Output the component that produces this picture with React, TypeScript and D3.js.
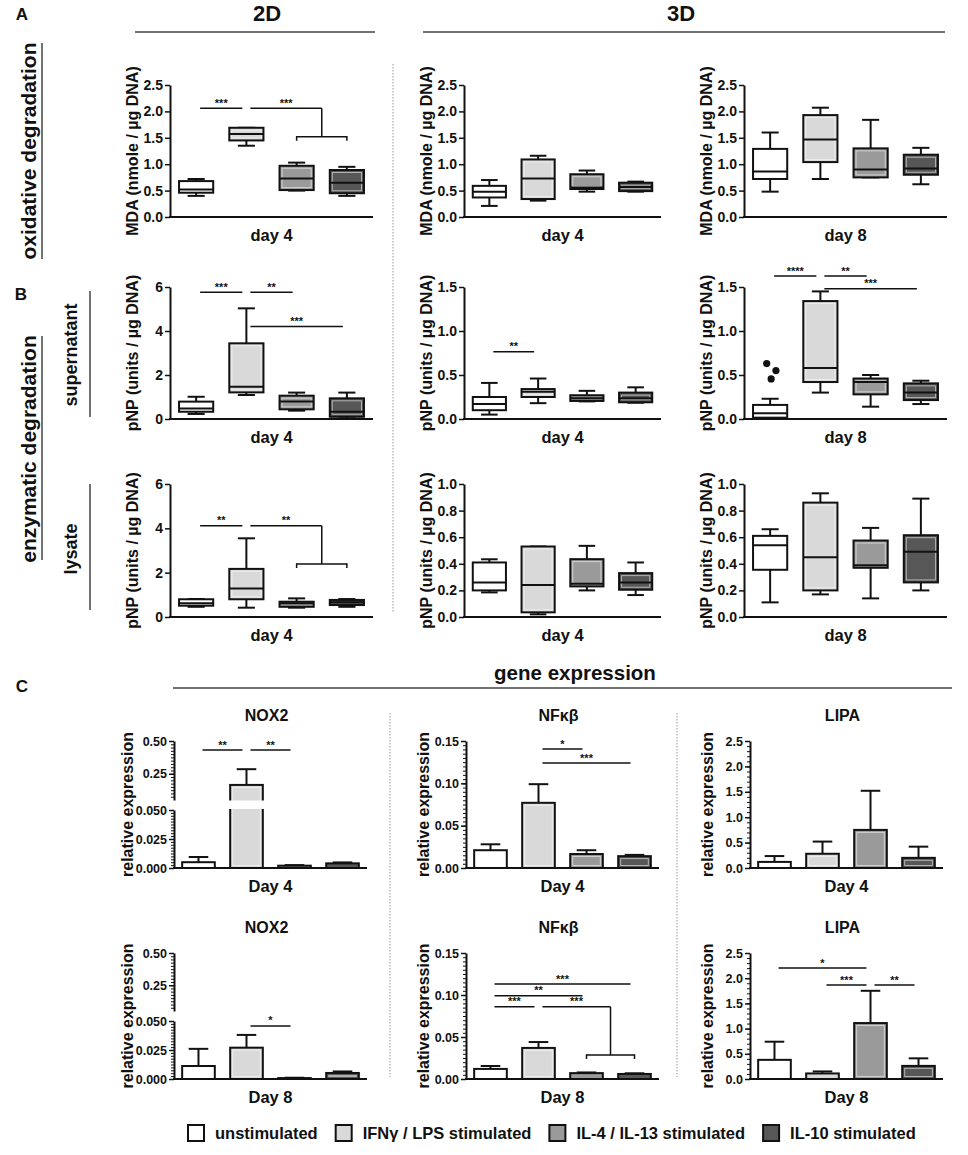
import { useEffect, useRef } from 'react';
import * as d3 from 'd3';

const FONT = "'Liberation Sans', Arial, Helvetica, sans-serif";
const INK = '#111';

const groups = ['unstimulated', 'IFNγ / LPS stimulated', 'IL-4 / IL-13 stimulated', 'IL-10 stimulated'];
const fills = ['#ffffff', '#d9d9d9', '#9a9a9a', '#575757'];

// box stats per group: [min, q1, median, q3, max]
const mda2dDay4 = [
  [0.40, 0.46, 0.52, 0.68, 0.72],
  [1.35, 1.45, 1.57, 1.69, 1.69],
  [0.50, 0.51, 0.73, 0.97, 1.03],
  [0.40, 0.45, 0.65, 0.89, 0.95],
];
const mda3dDay4 = [
  [0.21, 0.37, 0.48, 0.59, 0.70],
  [0.31, 0.34, 0.73, 1.09, 1.16],
  [0.48, 0.53, 0.56, 0.81, 0.88],
  [0.48, 0.49, 0.57, 0.65, 0.67],
];
const mda3dDay8 = [
  [0.48, 0.72, 0.86, 1.29, 1.60],
  [0.72, 1.04, 1.47, 1.93, 2.07],
  [0.75, 0.75, 0.90, 1.30, 1.84],
  [0.62, 0.80, 0.92, 1.18, 1.31],
];
const supn2dDay4 = [
  [0.23, 0.33, 0.48, 0.79, 1.01],
  [1.09, 1.21, 1.47, 3.44, 5.03],
  [0.38, 0.44, 0.79, 1.06, 1.20],
  [0.03, 0.10, 0.33, 0.94, 1.20],
];
const supn3dDay4 = [
  [0.05, 0.10, 0.17, 0.25, 0.41],
  [0.18, 0.25, 0.31, 0.34, 0.46],
  [0.20, 0.205, 0.235, 0.27, 0.32],
  [0.185, 0.19, 0.235, 0.30, 0.36],
];
const supn3dDay8 = [
  [0.0, 0.015, 0.065, 0.16, 0.23],
  [0.30, 0.42, 0.58, 1.34, 1.45],
  [0.14, 0.28, 0.42, 0.46, 0.50],
  [0.17, 0.215, 0.30, 0.405, 0.435],
];
const supn3dDay8Outliers = [
  { group: 0, value: 0.63, jitter: -0.1 },
  { group: 0, value: 0.55, jitter: 0.17 },
  { group: 0, value: 0.455, jitter: 0.03 },
];
const lys2dDay4 = [
  [0.46, 0.51, 0.62, 0.80, 0.81],
  [0.42, 0.80, 1.29, 2.17, 3.55],
  [0.42, 0.46, 0.62, 0.69, 0.84],
  [0.46, 0.54, 0.66, 0.77, 0.81],
];
const lys3dDay4 = [
  [0.185, 0.20, 0.26, 0.41, 0.434],
  [0.02, 0.035, 0.24, 0.53, 0.53],
  [0.20, 0.23, 0.25, 0.435, 0.535],
  [0.165, 0.205, 0.26, 0.33, 0.41],
];
const lys3dDay8 = [
  [0.11, 0.355, 0.54, 0.61, 0.66],
  [0.17, 0.20, 0.45, 0.86, 0.93],
  [0.14, 0.37, 0.39, 0.575, 0.67],
  [0.20, 0.26, 0.49, 0.615, 0.89],
];

// gene expression: mean and top of error bar
const nox2Day4 = [0.005, 0.165, 0.002, 0.004];
const nox2Day4Err = [0.0095, 0.285, 0.0025, 0.0048];
const nfkbDay4 = [0.021, 0.077, 0.0165, 0.014];
const nfkbDay4Err = [0.028, 0.099, 0.021, 0.0155];
const lipaDay4 = [0.12, 0.28, 0.75, 0.2];
const lipaDay4Err = [0.235, 0.52, 1.52, 0.42];
const nox2Day8 = [0.0112, 0.027, 0.0008, 0.0052];
const nox2Day8Err = [0.026, 0.038, 0.0011, 0.0065];
const nfkbDay8 = [0.012, 0.037, 0.007, 0.006];
const nfkbDay8Err = [0.0155, 0.044, 0.0078, 0.0068];
const lipaDay8 = [0.38, 0.11, 1.11, 0.26];
const lipaDay8Err = [0.74, 0.15, 1.75, 0.41];

// tick values
const mdaTicks = [0, 0.5, 1, 1.5, 2, 2.5];
const pnp2dTicks = [0, 2, 4, 6];
const pnpSupnTicks = [0, 0.5, 1, 1.5];
const pnpLysTicks = [0, 0.2, 0.4, 0.6, 0.8, 1.0];
const nox2LowTicks = [0, 0.025, 0.05];
const nox2HighTicks = [0.25, 0.5];
const nfkbTicks = [0, 0.05, 0.1, 0.15];
const lipaTicks = [0, 0.5, 1, 1.5, 2, 2.5];

// significance annotations (group indices, value level)
type Sig = { from: number; to: number | number[]; at: number; drop?: number; label: string };
const sigMda2dDay4: Sig[] = [
  { from: 0, to: 1, at: 2.06, label: '***' },
  { from: 1, to: [2, 3], at: 2.06, drop: 1.52, label: '***' },
];
const sigSupn2dDay4: Sig[] = [
  { from: 0, to: 1, at: 5.76, label: '***' },
  { from: 1, to: 2, at: 5.76, label: '**' },
  { from: 1, to: 3, at: 4.2, label: '***' },
];
const sigSupn3dDay4: Sig[] = [{ from: 0, to: 1, at: 0.765, label: '**' }];
const sigSupn3dDay8: Sig[] = [
  { from: 0, to: 1, at: 1.625, label: '****' },
  { from: 1, to: 2, at: 1.625, label: '**' },
  { from: 1, to: 3, at: 1.48, label: '***' },
];
const sigLys2dDay4: Sig[] = [
  { from: 0, to: 1, at: 4.12, label: '**' },
  { from: 1, to: [2, 3], at: 4.12, drop: 2.39, label: '**' },
];
const sigNox2Day4: Sig[] = [
  { from: 0, to: 1, at: 0.431, label: '**' },
  { from: 1, to: 2, at: 0.431, label: '**' },
];
const sigNfkbDay4: Sig[] = [
  { from: 1, to: 2, at: 0.1405, label: '*' },
  { from: 1, to: 3, at: 0.124, label: '***' },
];
const sigNox2Day8: Sig[] = [{ from: 1, to: 2, at: 0.0457, label: '*' }];
const sigNfkbDay8: Sig[] = [
  { from: 0, to: 3, at: 0.113, label: '***' },
  { from: 0, to: 2, at: 0.099, label: '**' },
  { from: 0, to: 1, at: 0.086, label: '***' },
  { from: 1, to: [2, 3], at: 0.086, drop: 0.0286, label: '***' },
];
const sigLipaDay8: Sig[] = [
  { from: 0, to: 2, at: 2.2, label: '*' },
  { from: 1, to: 2, at: 1.865, label: '***' },
  { from: 2, to: 3, at: 1.865, label: '**' },
];

type Sel = d3.Selection<any, any, any, any>;

function txt(g: Sel, x: number, y: number, s: string, size: number, anchor = 'middle', rotate = false) {
  const t = g.append('text')
    .attr('x', rotate ? 0 : x)
    .attr('y', rotate ? 0 : y)
    .attr('text-anchor', anchor)
    .attr('dominant-baseline', 'central')
    .attr('font-family', FONT)
    .attr('font-weight', 'bold')
    .attr('font-size', size)
    .attr('fill', INK)
    .text(s);
  if (rotate) t.attr('transform', `translate(${x},${y}) rotate(-90)`);
  return t;
}

function line(g: Sel, x1: number, y1: number, x2: number, y2: number, w = 1.5, color = INK) {
  g.append('line').attr('x1', x1).attr('y1', y1).attr('x2', x2).attr('y2', y2)
    .attr('stroke', color).attr('stroke-width', w);
}

function yAxis(g: Sel, scale: any, x0: number, ticks: number[], fmt: string, size: number, minor?: number[]) {
  const ax = g.append('g').attr('transform', `translate(${x0},0)`)
    .call(d3.axisLeft(scale).tickValues(ticks).tickFormat(d3.format(fmt) as any).tickSize(5).tickSizeOuter(0).tickPadding(2));
  ax.select('.domain').attr('stroke', INK).attr('stroke-width', 2);
  ax.selectAll('.tick line').attr('stroke', INK).attr('stroke-width', 1.5);
  ax.selectAll('.tick text').attr('fill', INK).attr('font-size', size).attr('font-weight', 'bold').attr('font-family', FONT);
  if (minor) {
    const mx = g.append('g').attr('transform', `translate(${x0},0)`)
      .call(d3.axisLeft(scale).tickValues(minor).tickFormat(() => '').tickSize(3).tickSizeOuter(0));
    mx.select('.domain').remove();
    mx.selectAll('.tick line').attr('stroke', INK).attr('stroke-width', 1);
  }
}

function drawSigs(g: Sel, sigs: Sig[], c: (i: number) => number, y: (v: number) => number) {
  sigs.forEach(s => {
    const yy = y(s.at);
    const x1 = c(s.from) + 4;
    let x2: number;
    if (Array.isArray(s.to)) {
      const xa = c(s.to[0]);
      const xb = c(s.to[1]);
      x2 = (xa + xb) / 2;
      const yd = y(s.drop as number);
      line(g, x2, yy, x2, yd);
      line(g, xa, yd, xb, yd);
      line(g, xa, yd - 0.7, xa, yd + 4);
      line(g, xb, yd - 0.7, xb, yd + 4);
    } else {
      x2 = c(s.to) - 4;
    }
    line(g, x1, yy, x2, yy);
    g.append('text').attr('x', (x1 + x2) / 2).attr('y', yy - 1.5)
      .attr('text-anchor', 'middle').attr('font-family', FONT).attr('font-weight', 'bold')
      .attr('font-size', 11).attr('fill', INK).text(s.label);
  });
}

function innerGlow(g: Sel, x: number, y: number, w: number, h: number, i: number) {
  if (i === 0 || h < 6) return;
  g.append('rect').attr('x', x + 2.5).attr('y', y + 2.5).attr('width', w - 5).attr('height', h - 5)
    .attr('fill', 'none').attr('stroke', '#fff').attr('stroke-opacity', 0.55).attr('stroke-width', 1);
}

interface BoxPanel {
  x0: number; x1: number; yt: number; yb: number;
  data: number[][]; domain: number[]; ticks: number[]; fmt: string;
  title: string; day: string; sigs?: Sig[]; outliers?: { group: number; value: number; jitter: number }[];
}

function drawBoxPanel(svg: Sel, p: BoxPanel) {
  const g = svg.append('g');
  const x = d3.scaleBand<number>().domain(d3.range(4)).range([p.x0, p.x1]).paddingInner(0.32).paddingOuter(0.18);
  const y = d3.scaleLinear().domain(p.domain).range([p.yb, p.yt]);
  const bw = x.bandwidth();
  const c = (i: number) => (x(i) as number) + bw / 2;

  p.data.forEach((d, i) => {
    const [mn, q1, md, q3, mx] = d;
    const cx = c(i);
    const cap = bw * 0.25;
    line(g, cx, y(mx), cx, y(q3), 2);
    line(g, cx, y(q1), cx, y(mn), 2);
    line(g, cx - cap, y(mx), cx + cap, y(mx), 2);
    line(g, cx - cap, y(mn), cx + cap, y(mn), 2);
    const bx = x(i) as number;
    g.append('rect').attr('x', bx).attr('y', y(q3)).attr('width', bw).attr('height', y(q1) - y(q3))
      .attr('fill', fills[i]).attr('stroke', INK).attr('stroke-width', 2);
    innerGlow(g, bx, y(q3), bw, y(q1) - y(q3), i);
    line(g, bx, y(md), bx + bw, y(md), 2);
  });

  (p.outliers || []).forEach(o => {
    g.append('circle').attr('cx', c(o.group) + o.jitter * bw).attr('cy', y(o.value)).attr('r', 3.6).attr('fill', INK);
  });

  yAxis(g, y, p.x0, p.ticks, p.fmt, 14);
  line(g, p.x0 - 1, p.yb, p.x1, p.yb, 2);
  txt(g, p.x0 - 38, (p.yt + p.yb) / 2, p.title, 16, 'middle', true);
  txt(g, (p.x0 + p.x1) / 2, p.yb + 18, p.day, 16.5);
  if (p.sigs) drawSigs(g, p.sigs, c, y);
}

interface BarPanel {
  x0: number; x1: number; yt: number; yb: number;
  values: number[]; errs: number[]; gene: string; day: string; sigs?: Sig[];
  kind: 'nox2' | 'nfkb' | 'lipa';
}

function drawBarPanel(svg: Sel, p: BarPanel) {
  const g = svg.append('g');
  const x = d3.scaleBand<number>().domain(d3.range(4)).range([p.x0, p.x1]).paddingInner(0.32).paddingOuter(0.17);
  const bw = x.bandwidth();
  const c = (i: number) => (x(i) as number) + bw / 2;

  let y: (v: number) => number;
  let low: d3.ScaleLinear<number, number> | null = null;
  let high: d3.ScaleLinear<number, number> | null = null;
  let simple: d3.ScaleLinear<number, number> | null = null;
  if (p.kind === 'nox2') {
    low = d3.scaleLinear().domain([0, 0.05]).range([p.yb, p.yb - 58]);
    high = d3.scaleLinear().domain([0.05, 0.5]).range([p.yb - 68, p.yt]);
    y = (v: number) => (v <= 0.05 ? low!(v) : high!(v));
  } else {
    simple = d3.scaleLinear().domain([0, p.kind === 'nfkb' ? 0.15 : 2.5]).range([p.yb, p.yt]);
    y = (v: number) => simple!(v);
  }

  p.values.forEach((v, i) => {
    const bx = x(i) as number;
    const cx = c(i);
    const cap = bw * 0.3;
    line(g, cx, y(v), cx, y(p.errs[i]), 2);
    line(g, cx - cap, y(p.errs[i]), cx + cap, y(p.errs[i]), 2);
    g.append('rect').attr('x', bx).attr('y', y(v)).attr('width', bw).attr('height', Math.max(0.5, p.yb - y(v)))
      .attr('fill', fills[i]).attr('stroke', INK).attr('stroke-width', 2);
    innerGlow(g, bx, y(v), bw, p.yb - y(v), i);
    if (p.kind === 'nox2' && v > 0.05) {
      g.append('rect').attr('x', bx - 3).attr('y', high!(0.05) + 0.5).attr('width', bw + 6)
        .attr('height', low!(0.05) - high!(0.05) - 1.5).attr('fill', '#fff');
    }
  });

  if (p.kind === 'nox2') {
    yAxis(g, low, p.x0, nox2LowTicks, '.3f', 12.5, d3.range(0, 0.05001, 0.0025));
    yAxis(g, high, p.x0, nox2HighTicks, '.2f', 12.5, d3.range(0.075, 0.5001, 0.025));
  } else if (p.kind === 'nfkb') {
    yAxis(g, simple, p.x0, nfkbTicks, '.2f', 12.5, d3.range(0, 0.15001, 0.005));
  } else {
    yAxis(g, simple, p.x0, lipaTicks, '.1f', 12.5, d3.range(0, 2.5001, 0.1));
  }
  line(g, p.x0 - 1, p.yb, p.x1, p.yb, 2);
  txt(g, p.x0 - (p.kind === 'nox2' ? 47 : 43), (p.yt + p.yb) / 2, 'relative expression', 16, 'middle', true);
  txt(g, (p.x0 + p.x1) / 2 - 4, p.yt - 26, p.gene, 16);
  txt(g, (p.x0 + p.x1) / 2, p.yb + 18, p.day, 16.5);
  if (p.sigs) drawSigs(g, p.sigs, c, y);
}

export default function App() {
  const ref = useRef<SVGSVGElement>(null);

  useEffect(() => {
    if (!ref.current) return;
    const svg = d3.select(ref.current);
    svg.selectAll('*').remove();

    // headers & section labels
    txt(svg, 22, 14, 'A', 17);
    txt(svg, 21, 294, 'B', 17);
    txt(svg, 22, 686, 'C', 17);
    txt(svg, 267, 13, '2D', 22);
    line(svg, 135, 32, 375, 32, 1.5, '#444');
    txt(svg, 681, 13, '3D', 22);
    line(svg, 423, 32, 945, 32, 1.5, '#444');

    txt(svg, 28, 151, 'oxidative degradation', 21, 'middle', true);
    line(svg, 42, 43, 42, 259, 1.5, '#444');
    txt(svg, 28, 449, 'enzymatic degradation', 21, 'middle', true);
    line(svg, 42, 336, 42, 560, 1.5, '#444');
    txt(svg, 71, 355, 'supernatant', 18, 'middle', true);
    line(svg, 90, 291, 90, 417, 1.5, '#444');
    txt(svg, 71, 549, 'lysate', 18, 'middle', true);
    line(svg, 90, 484, 90, 610, 1.5, '#444');

    svg.append('line').attr('x1', 393).attr('y1', 64).attr('x2', 393).attr('y2', 613)
      .attr('stroke', '#999').attr('stroke-width', 1).attr('stroke-dasharray', '1.5,1.5');

    const cols = [[170, 373], [464, 661], [744, 947]];
    const rows = [[85, 217], [287, 419], [484, 617]];
    const mdaT = 'MDA (nmole / µg DNA)';
    const pnpT = 'pNP (units / µg DNA)';

    const boxPanels: any[] = [
      { data: mda2dDay4, domain: [0, 2.5], ticks: mdaTicks, fmt: '.1f', title: mdaT, day: 'day 4', sigs: sigMda2dDay4, col: 0, row: 0 },
      { data: mda3dDay4, domain: [0, 2.5], ticks: mdaTicks, fmt: '.1f', title: mdaT, day: 'day 4', col: 1, row: 0 },
      { data: mda3dDay8, domain: [0, 2.5], ticks: mdaTicks, fmt: '.1f', title: mdaT, day: 'day 8', col: 2, row: 0 },
      { data: supn2dDay4, domain: [0, 6], ticks: pnp2dTicks, fmt: 'd', title: pnpT, day: 'day 4', sigs: sigSupn2dDay4, col: 0, row: 1 },
      { data: supn3dDay4, domain: [0, 1.5], ticks: pnpSupnTicks, fmt: '.1f', title: pnpT, day: 'day 4', sigs: sigSupn3dDay4, col: 1, row: 1 },
      { data: supn3dDay8, domain: [0, 1.5], ticks: pnpSupnTicks, fmt: '.1f', title: pnpT, day: 'day 8', sigs: sigSupn3dDay8, outliers: supn3dDay8Outliers, col: 2, row: 1 },
      { data: lys2dDay4, domain: [0, 6], ticks: pnp2dTicks, fmt: 'd', title: pnpT, day: 'day 4', sigs: sigLys2dDay4, col: 0, row: 2 },
      { data: lys3dDay4, domain: [0, 1], ticks: pnpLysTicks, fmt: '.1f', title: pnpT, day: 'day 4', col: 1, row: 2 },
      { data: lys3dDay8, domain: [0, 1], ticks: pnpLysTicks, fmt: '.1f', title: pnpT, day: 'day 8', col: 2, row: 2 },
    ];
    boxPanels.forEach(p => {
      drawBoxPanel(svg, { ...p, x0: cols[p.col][0], x1: cols[p.col][1], yt: rows[p.row][0], yb: rows[p.row][1] });
    });

    // gene expression
    txt(svg, 575, 672, 'gene expression', 20.5);
    line(svg, 173, 688, 952, 688, 1.5, '#444');
    [390, 677].forEach(xx => {
      svg.append('line').attr('x1', xx).attr('y1', 713).attr('x2', xx).attr('y2', 1077)
        .attr('stroke', '#999').attr('stroke-width', 1).attr('stroke-dasharray', '1.5,1.5');
    });
    const ccols = [[174, 367], [466, 659], [750, 943]];
    const crows = [[741, 868], [953, 1079]];
    const barPanels: any[] = [
      { values: nox2Day4, errs: nox2Day4Err, gene: 'NOX2', day: 'Day 4', kind: 'nox2', sigs: sigNox2Day4, col: 0, row: 0 },
      { values: nfkbDay4, errs: nfkbDay4Err, gene: 'NFκβ', day: 'Day 4', kind: 'nfkb', sigs: sigNfkbDay4, col: 1, row: 0 },
      { values: lipaDay4, errs: lipaDay4Err, gene: 'LIPA', day: 'Day 4', kind: 'lipa', col: 2, row: 0 },
      { values: nox2Day8, errs: nox2Day8Err, gene: 'NOX2', day: 'Day 8', kind: 'nox2', sigs: sigNox2Day8, col: 0, row: 1 },
      { values: nfkbDay8, errs: nfkbDay8Err, gene: 'NFκβ', day: 'Day 8', kind: 'nfkb', sigs: sigNfkbDay8, col: 1, row: 1 },
      { values: lipaDay8, errs: lipaDay8Err, gene: 'LIPA', day: 'Day 8', kind: 'lipa', sigs: sigLipaDay8, col: 2, row: 1 },
    ];
    barPanels.forEach(p => {
      drawBarPanel(svg, { ...p, x0: ccols[p.col][0], x1: ccols[p.col][1], yt: crows[p.row][0], yb: crows[p.row][1] });
    });

    // legend
    const ly = 1133;
    let lx = 188;
    groups.forEach((name, i) => {
      svg.append('rect').attr('x', lx).attr('y', ly - 8).attr('width', 16).attr('height', 16)
        .attr('fill', fills[i]).attr('stroke', INK).attr('stroke-width', 2);
      const t = txt(svg, lx + 27, ly, name, 16.5, 'start');
      const w = (t.node() as SVGTextElement).getComputedTextLength();
      lx = lx + 27 + w + 18;
    });
  }, []);

  return (
    <svg
      ref={ref}
      width={968}
      height={1155}
      style={{ position: 'absolute', left: 0, top: 0, background: '#fff' }}
    />
  );
}
